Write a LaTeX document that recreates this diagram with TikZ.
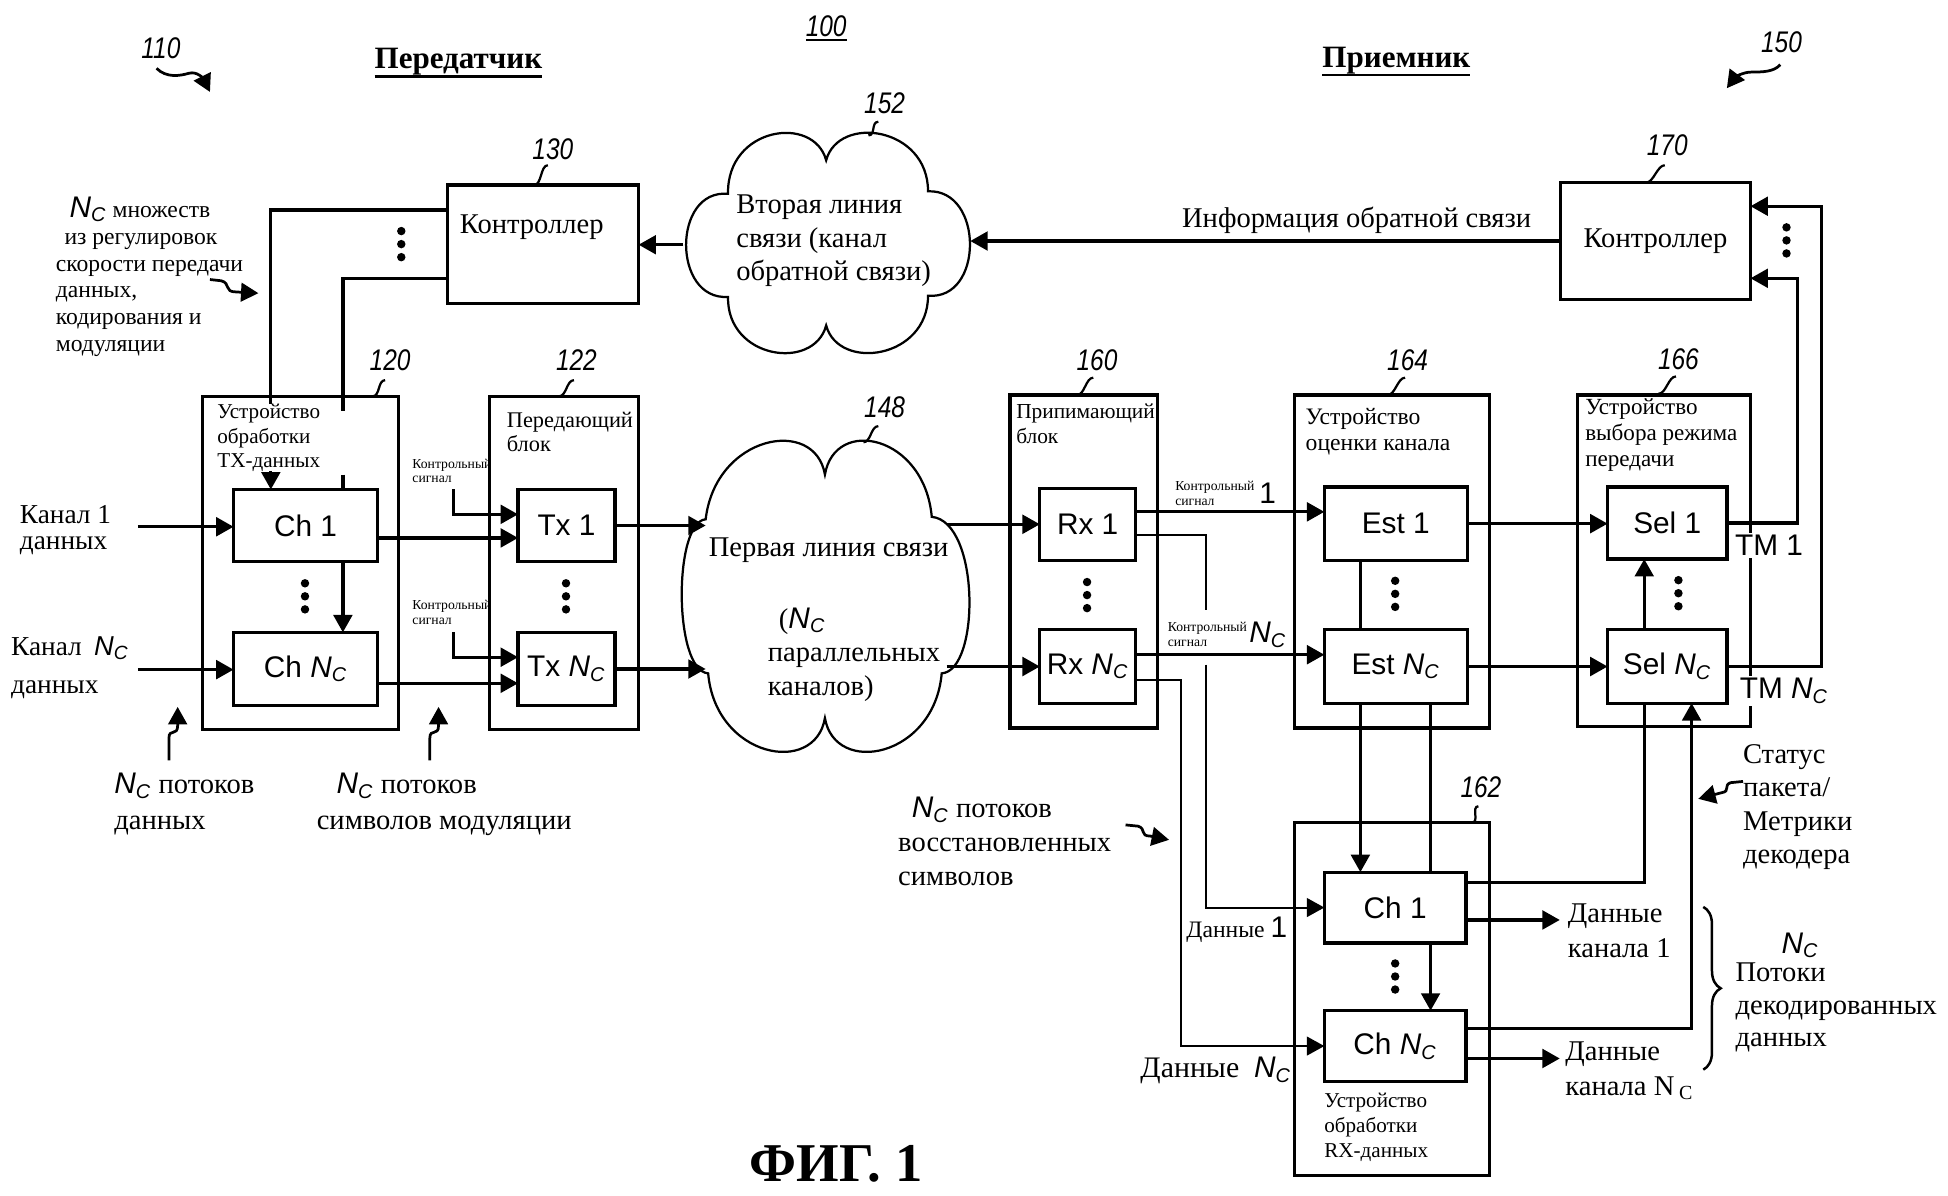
\documentclass[tikz,border=0pt]{standalone}
\usepackage{fontspec}
\setmainfont{Liberation Serif}
\newfontfamily\arialf{Liberation Sans}
\usetikzlibrary{arrows.meta,decorations.pathreplacing}

\newcommand{\NC}{{\arialf\itshape N\textsubscript{C}}}
\newcommand{\NCb}{{\fontsize{12}{12}\selectfont\NC}}
\newcommand{\refno}[1]{{\arialf\itshape\fontsize{12}{12}\selectfont\scalebox{0.82}[1]{#1}}}

\begin{document}
\begin{tikzpicture}[x=0.5pt, y=-0.5pt]
\tikzset{ >={Triangle[length=7pt,width=7.5pt]}, inner sep=0pt, outer sep=0pt,
  outerbox/.style={draw, line width=1.3pt},
  chbox/.style={draw, line width=1.3pt, font=\arialf\fontsize{12}{12}\selectfont},
  boxtitle/.style={anchor=north west, align=left},
  ctlsig/.style={anchor=west, align=left, font=\fontsize{5.5}{6}\selectfont},
  wire/.style={line width=1.3pt},
  thinwire/.style={line width=0.8pt},
  leadline/.style={line width=0.9pt},
  cloudline/.style={line width=0.9pt},
  ptr/.style={line width=1.1pt, ->},
  txt/.style={font=\fontsize{11.5}{13.5}\selectfont},
}

\useasboundingbox (0,0) rectangle (1568,962);

%\draw [lightgray, dashed] (0,0) grid[step=100] (1568,962);

% headings
\node [font=\bfseries\fontsize{12.5}{14}\selectfont] (hdtx) at (369,50) {Передатчик};
\node [font=\bfseries\fontsize{12.5}{14}\selectfont] (hdrx) at (1124,49) {Приемник};
\draw [line width=1pt] ([yshift=-3pt]hdtx.base west) -- ([yshift=-3pt]hdtx.base east);
\draw [line width=1pt] ([yshift=-3pt]hdrx.base west) -- ([yshift=-3pt]hdrx.base east);

\foreach \nm/\x/\y in {110/129.5/39, 150/1434/34, 130/445/120, 120/314/290, 122/464/290,
    148/712/327.5, 152/712/83, 160/883/290, 164/1133/290, 166/1351/289, 170/1342/117,
    162/1192/633.5, 100/665/21}
  \node (n\nm) at (\x,\y) {\refno{\nm}};
\draw [line width=0.9pt] ([yshift=-1.5pt]n100.base west) -- ([yshift=-1.5pt]n100.base east);

% transmitter
\node [outerbox, minimum width=79pt, minimum height=134pt] (txproc) at (242,453) {};
\node [outerbox, minimum width=60pt, minimum height=134pt] (txunit) at (454,453) {};
\node [chbox, minimum width=58pt, minimum height=29pt] (ch1t) at (246,423) {Ch 1};
\node [chbox, minimum width=58pt, minimum height=29.5pt] (chNt) at (246,538.5) {Ch \NC};
\node [chbox, minimum width=39pt, minimum height=29pt] (tx1) at (456,423) {Tx 1};
\node [chbox, minimum width=39pt, minimum height=29.5pt] (txN) at (456,538.5) {Tx \NC};
\node [outerbox, minimum width=77pt, minimum height=47.5pt] (ctl130) at (437,196.5) {};
\node [txt] (ctl130t) at (428,183) {Контроллер};

\node [boxtitle, font=\fontsize{8.5}{10}\selectfont] (txproct) at (175,325) {Устройство\\обработки\\TX-данных};
\node [boxtitle, font=\fontsize{9}{9.5}\selectfont] (txunitt) at (408,332) {Передающий\\блок};

% receiver
\node [outerbox, minimum width=59.5pt, minimum height=134pt] (rxunit) at (872.5,452) {};
\node [chbox, minimum width=38.5pt, minimum height=29pt] (rx1) at (875.5,422) {Rx 1};
\node [chbox, minimum width=38.5pt, minimum height=29.5pt] (rxN) at (875.5,536.5) {Rx \NC};
\node [outerbox, minimum width=78.5pt, minimum height=134pt] (estim) at (1120.5,452) {};
\node [chbox, minimum width=57.5pt, minimum height=29.5pt] (est1) at (1123.5,421.5) {Est 1};
\node [chbox, minimum width=57.5pt, minimum height=29.5pt] (estN) at (1123.5,536.5) {Est \NC};
\node [outerbox, minimum width=69.5pt, minimum height=133.5pt] (modesel) at (1339.5,451.5) {};
\node [chbox, minimum width=48pt, minimum height=29pt] (sel1) at (1342,421) {Sel 1};
\node [chbox, minimum width=48pt, minimum height=29.5pt] (selN) at (1342,536.5) {Sel \NC};
\node [outerbox, minimum width=78.5pt, minimum height=142pt] (rxproc) at (1120.5,804) {};
\node [chbox, minimum width=57pt, minimum height=28.5pt] (ch1r) at (1123,730.5) {Ch 1};
\node [chbox, minimum width=57pt, minimum height=28.5pt] (chNr) at (1123,842) {Ch \NC};
\node [outerbox, minimum width=76.5pt, minimum height=47pt, font=\fontsize{11.5}{13.5}\selectfont] (ctl170) at (1332.5,194) {Контроллер};

\node [boxtitle, font=\fontsize{8.6}{10}\selectfont] (rxunitt) at (818,325) {Припимающий\\блок};
\node [boxtitle, font=\fontsize{9.5}{10.5}\selectfont] (estimt) at (1051,329) {Устройство\\оценки канала};
\node [boxtitle, font=\fontsize{9.3}{10.5}\selectfont] (modeselt) at (1276,321) {Устройство\\выбора режима\\передачи};
\node [boxtitle, font=\fontsize{8.5}{10}\selectfont] (rxproct) at (1066,880) {Устройство\\обработки\\RX-данных};

% clouds
\draw [cloudline, shift={(665,197)}] (-79,-41)
  .. controls (-80,-95) and (-10,-105) .. (0,-68)
  .. controls (10,-105) and (82,-95) .. (82,-43)
  .. controls (127,-45) and (127,45) .. (82,41)
  .. controls (82,92) and (10,102) .. (0,65)
  .. controls (-10,102) and (-80,92) .. (-79,42)
  .. controls (-124,45) and (-124,-45) .. (-79,-41) -- cycle;
\draw [cloudline, shift={(664,480)}] (-96,-62)
  .. controls (-88,-130) and (-8,-145) .. (0,-98)
  .. controls (8,-145) and (80,-130) .. (86,-64)
  .. controls (125,-60) and (125,60) .. (94,62)
  .. controls (88,130) and (8,145) .. (0,98)
  .. controls (-8,145) and (-88,130) .. (-94,62)
  .. controls (-122,60) and (-122,-60) .. (-96,-62) -- cycle;
\coordinate (c152w) at (550,197);
\coordinate (c152e) at (781,197);
\coordinate (c148w) at (568,480);
\coordinate (c148e) at (762,480);

\node [txt, align=left] (c152t) at (671,194) {Вторая линия\\связи (канал\\обратной связи)};
\node [txt] (c148t) at (667,443) {Первая линия связи};
\node [txt, anchor=west, align=left] (c148t2) at (618,527) {\hspace*{4.5pt}(\NCb\\параллельных\\каналов)};

% texts
\node [txt] (fbinfo) at (1092,177) {Информация обратной связи};
\node [anchor=west, align=left, font=\fontsize{11}{10.5}\selectfont] (in1t) at (16,426.5) {Канал 1\\данных};
\node [anchor=west, align=left, font=\fontsize{11}{15.5}\selectfont] (inNt) at (9,537.5) {Канал\hspace{5pt}\NC\\данных};
\node [anchor=north west, align=left, font=\fontsize{9.5}{10.8}\selectfont] (ratest) at (45,158.5) {\hspace*{5.5pt}\NCb{} множеств\\\hspace*{3.5pt}из регулировок\\скорости передачи\\данных,\\кодирования и\\модуляции};
\node [anchor=west, align=left, font=\fontsize{11.5}{14.5}\selectfont] (datst) at (92,647.5) {\NCb{} потоков\\данных};
\node [anchor=west, align=left, font=\fontsize{11.5}{14.5}\selectfont] (symst) at (255,647.5) {\hspace*{8pt}\NCb{} потоков\\символов модуляции};
\node [anchor=west, align=left, font=\fontsize{11.5}{13.75}\selectfont] (recst) at (723,677.5) {\hspace*{5.5pt}\NCb{} потоков\\восстановленных\\символов};
\node [anchor=west, align=left, font=\fontsize{11.5}{13.5}\selectfont] (pkst) at (1403,649.5) {Статус\\пакета/\\Метрики\\декодера};
\node (decN) at (1449,761) {\NCb};
\node [anchor=west, align=left, font=\fontsize{11.5}{13}\selectfont] (decst) at (1397,811) {Потоки\\декодированных\\данных};
\node [anchor=west, align=left, font=\fontsize{11.5}{14}\selectfont] (out1t) at (1262,749) {Данные\\канала 1};
\node [anchor=west, align=left, font=\fontsize{11.5}{14}\selectfont] (outNt) at (1260,862) {Данные\\канала N\,\textsubscript{C}};
\node [anchor=west, font=\fontsize{9.5}{10}\selectfont] (rd1t) at (955,748) {Данные {\arialf\fontsize{12}{12}\selectfont 1}};
\node [anchor=west, font=\fontsize{12}{12}\selectfont] (rdNt) at (918,862) {Данные\hspace{6pt}\NCb};
\node [font=\bfseries\fontsize{22}{24}\selectfont] (fig) at (673,937) {ФИГ. 1};

\node [ctlsig] (ks1) at (332,379) {Контрольный\\сигнал};
\node [ctlsig] (ksN) at (332,493) {Контрольный\\сигнал};
\node [ctlsig] (kr1) at (946,397) {Контрольный\\сигнал};
\node [anchor=west, font=\arialf\fontsize{12}{12}\selectfont] (kr1n) at ([xshift=2pt]kr1.east) {1};
\node [ctlsig] (krN) at (940,511) {Контрольный\\сигнал};
\node [anchor=west] (krNn) at ([xshift=1pt]krN.east) {\NCb};

% transmitter connections
\coordinate (in1) at (111,424);
\coordinate (inN) at (111,539);
\draw [wire,->] (in1) -- (in1 -| ch1t.west);
\draw [wire,->] (inN) -- (inN -| chNt.west);
\draw [wire,->] ([yshift=-5pt]ch1t.east) -- ([yshift=-5pt]tx1.west);
\draw [wire,->] ([yshift=-5.75pt]chNt.east) -- ([yshift=-5.75pt]txN.west);
\coordinate (ks1a) at (365,394);
\coordinate (ksNa) at (365,509);
\draw [wire,->] (ks1a) |- ([yshift=4.5pt]tx1.west);
\draw [wire,->] (ksNa) |- ([yshift=4.75pt]txN.west);
\draw [wire,->] (tx1.east) -- (tx1.east -| c148w);
\draw [wire,->] (txN.east) -- (txN.east -| c148w);

\coordinate (ldA) at (218,325);
\coordinate (ldA2) at (218,379);
\coordinate (ldB) at (276,331);
\coordinate (ldB2) at (276,382);
\draw [wire] ([yshift=13.75pt]ctl130.west) -| (ldA);
\draw [wire,->] (ldA2) -- (ldA2 |- ch1t.north);
\draw [wire] ([yshift=-13.75pt]ctl130.west) -| (ldB);
\draw [wire] (ldB2) -- (ldB2 |- ch1t.north);
\draw [wire,->] (ldB |- ch1t.south) -- (ldB |- chNt.north);

% feedback
\draw [wire,->] (c152w) -- (c152w -| ctl130.east);
\draw [wire,->] (ctl170.west) -- (ctl170.west -| c152e);

% receiver connections
\draw [wire,->] (rx1.west -| c148e) -- (rx1.west);
\draw [wire,->] (rxN.west -| c148e) -- (rxN.west);
\draw [wire,->] ([yshift=5pt]rx1.east) -- ([yshift=5pt]rx1.east -| est1.west);
\draw [wire,->] ([yshift=4.75pt]rxN.east) -- ([yshift=4.75pt]rxN.east -| estN.west);
\coordinate (r1d) at (971,491);
\coordinate (r1e) at (971,535);
\coordinate (rNd) at (951,600);
\draw [thinwire] ([yshift=-4.5pt]rx1.east) -| (r1d);
\draw [thinwire,->] (r1e) |- (ch1r.west);
\draw [thinwire,->] ([yshift=-5.25pt]rxN.east) -| (rNd) |- (chNr.west);

\coordinate (xe1) at (1095,0);
\coordinate (xe2) at (1151.5,0);
\draw [wire] (est1.south -| xe1) -- (estN.north -| xe1);
\draw [wire,->] (estN.south -| xe1) -- (ch1r.north -| xe1);
\draw [wire] (estN.south -| xe2) -- (ch1r.north -| xe2);
\draw [wire,->] (ch1r.south -| xe2) -- (chNr.north -| xe2);
\draw [wire,->] (est1.east) -- (est1.east -| sel1.west);
\draw [wire,->] (estN.east) -- (estN.east -| selN.west);

\coordinate (tm1c) at (1447,224);
\coordinate (tmNc) at (1466,166);
\draw [wire,->] (sel1.east) -| (tm1c) -- (tm1c -| ctl170.east);
\draw [wire,->] (selN.east) -| (tmNc) -- (tmNc -| ctl170.east);
\coordinate (xs1) at (1323.5,0);
\coordinate (xs2) at (1361.6,0);
\draw [wire,->] (selN.north -| xs1) -- (sel1.south -| xs1);
\draw [wire] ([yshift=10pt]ch1r.east) -| (selN.south -| xs1);
\draw [wire,->] ([yshift=7.2pt]chNr.east) -| (selN.south -| xs2);
\coordinate (dout) at (1255.5,0);
\draw [wire,->] ([yshift=-5pt]ch1r.east) -- ([yshift=-5pt]ch1r.east -| dout);
\draw [wire,->] ([yshift=-5pt]chNr.east) -- ([yshift=-5pt]chNr.east -| dout);

\node [fill=white, inner sep=1pt, font=\arialf\fontsize{12}{12}\selectfont] (tm1) at (1424,439) {TM 1};
\node [fill=white, inner sep=1pt, font=\arialf\fontsize{12}{12}\selectfont] (tmN) at (1436,556) {TM \NC};

\draw [line width=1pt, decorate, decoration={brace, amplitude=7pt}] (1371,730) -- (1371,861);

% dots
\foreach \x/\y in {323/196.5, 245.5/480, 455.6/480, 875/479, 1123/478, 1351/477.5, 1438/193.5, 1123/786}
  \foreach \k in {-1,0,1} \fill (\x,\y+\k*10.5) circle (1.7pt);

% leader ticks
\foreach \ax/\ay/\bx/\by in {430/149/441/133, 300/319/310/306, 450/319/462/306, 695/356/707/343,
    699/109/707/98, 867/318/880/304, 1117/318/1131/304, 1335/317/1349/303, 1325/147/1340/133, 1185/662/1190/649}
  \draw [leadline] (\ax,\ay) .. controls +(6,0) and +(-6,0) .. (\bx,\by);

% pointers
\draw [ptr] (126,55) .. controls (134,63) and (145,61) .. (152,59) .. controls (159,57) and (164,64) .. (169,74);
\draw [ptr] (1433,52) .. controls (1428,58) and (1418,58) .. (1410,58) .. controls (1402,58) and (1396,63) .. (1390,71);
\draw [ptr] (169,225) -- (178,226) .. controls (186,228) and (180,235) .. (190,235) -- (208,236);
\draw [ptr] (136,612) -- (136,594) .. controls (136,586) and (143,593) .. (143,584) -- (143,569);
\draw [ptr] (346,612) -- (346,594) .. controls (346,586) and (353,593) .. (353,584) -- (353,569);
\draw [ptr] (906,664) -- (916,665) .. controls (923,667) and (917,673) .. (926,673) -- (941,676);
\draw [ptr] (1403,629) -- (1393,630) .. controls (1387,632) and (1393,637) .. (1386,638) -- (1367,643);

\end{tikzpicture}
\end{document}
